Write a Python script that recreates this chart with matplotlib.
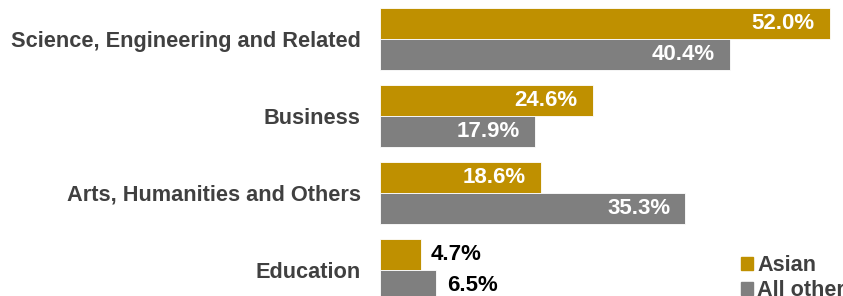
import matplotlib.pyplot as plt
import numpy as np
from matplotlib.patches import Patch

plt.rcParams['font.family'] = ['Liberation Sans', 'DejaVu Sans']

categories = ['Science, Engineering and Related', 'Business',
              'Arts, Humanities and Others', 'Education']
asian = [52.0, 24.6, 18.6, 4.7]
all_other = [40.4, 17.9, 35.3, 6.5]
series_names = ['Asian', 'All other']

gold = '#BF9000'
gray = '#7F7F7F'
text_dark = '#404040'

W, H = 843, 296
fig = plt.figure(figsize=(W / 100, H / 100), dpi=100)
ax = fig.add_axes([380 / W, 0, (W - 380) / W, 1])

y = np.arange(len(categories))
h = 0.4
ax.barh(y - h / 2, asian, height=h, color=gold, edgecolor='white', linewidth=0.6)
ax.barh(y + h / 2, all_other, height=h, color=gray, edgecolor='white', linewidth=0.6)

ax.set_xlim(0, 53.5)
ax.set_ylim(3.34, -0.506)

for vals, off in [(asian, -h / 2), (all_other, h / 2)]:
    for i, v in enumerate(vals):
        if v > 10:
            ax.annotate(f'{v:.1f}%', (v, i + off), xytext=(-11, 0), textcoords='offset points',
                        ha='right', va='center', color='white', fontsize=16, fontweight='bold')
        else:
            ax.annotate(f'{v:.1f}%', (v, i + off), xytext=(7.5, 0), textcoords='offset points',
                        ha='left', va='center', color='black', fontsize=16, fontweight='bold')

ax.set_yticks(y)
ax.set_yticklabels(categories, fontsize=15.7, fontweight='bold', color=text_dark)
ax.tick_params(axis='y', length=0, pad=14)
ax.set_xticks([])
for s in ax.spines.values():
    s.set_visible(False)

handles = [Patch(color=gold), Patch(color=gray)]
leg = fig.legend(handles, series_names, loc='upper left', bbox_to_anchor=(730 / W, 52 / H),
                 frameon=False, prop={'weight': 'bold', 'size': 15.6},
                 handlelength=0.55, handleheight=0.55, handletextpad=0.2,
                 borderpad=0, labelspacing=0.2)
for t in leg.get_texts():
    t.set_color(text_dark)

fig.savefig('out.png', dpi=100)
